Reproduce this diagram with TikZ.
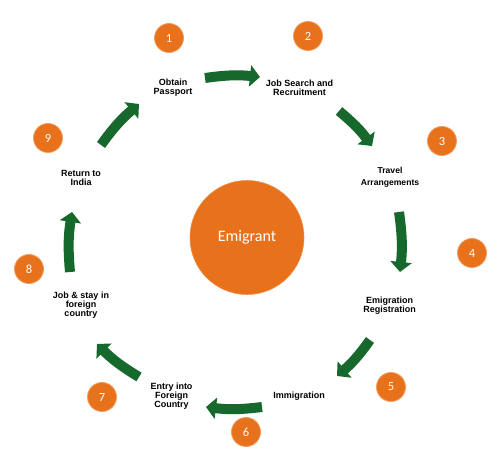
\documentclass[tikz,border=0pt]{standalone}
\usepackage{fontspec}
\setmainfont{Liberation Sans}
\newfontfamily\calib{Carlito}
\usetikzlibrary{arrows.meta}
\definecolor{emorange}{RGB}{232,114,28}
\definecolor{emgreen}{RGB}{22,104,45}
\begin{document}
\begin{tikzpicture}[x=1pt,y=1pt,
 num/.style={circle,fill=emorange,draw=emorange!70!white,line width=0.8pt,minimum size=29pt,inner sep=0pt,text=white,font=\calib\fontsize{12.5}{12.5}\selectfont},
 lbl/.style={align=center,font=\bfseries\fontsize{9}{9}\selectfont,text=black,inner sep=0pt},
 flow/.style={draw=emgreen,line width=10pt,-{Triangle[length=10pt,width=21pt]},bend left=7}]
\useasboundingbox (0,0) rectangle (500,468);

% centre
\node[circle,fill=emorange,draw=emorange!80!white,line width=0.6pt,minimum size=114pt,inner sep=0pt,text=white,font=\calib\fontsize{16}{16}\selectfont] (em) at (247,230.5) {Emigrant};

% numbers
\node[num] (n1) at (169,430) {1};
\node[num] (n2) at (308,432) {2};
\node[num] (n3) at (442,327) {3};
\node[num] (n4) at (472,215) {4};
\node[num] (n5) at (391,81) {5};
\node[num] (n6) at (246,36) {6};
\node[num] (n7) at (102,71) {7};
\node[num] (n8) at (29,199) {8};
\node[num] (n9) at (48,330) {9};

% labels
\node[lbl] (l1) at (173,380.5) {Obtain\\Passport};
\node[lbl] (l2) at (299.5,380.5) {Job Search and\\Recruitment};
\node[lbl,font=\bfseries\fontsize{8.6}{12}\selectfont] (l3) at (390,291) {Travel\\Arrangements};
\node[lbl] (l4) at (389.5,162.7) {Emigration\\Registration};
\node[lbl] (l5) at (299,72.3) {Immigration};
\node[lbl] (l6) at (171.5,72.3) {Entry into\\Foreign\\Country};
\node[lbl] (l7) at (81,162.5) {Job \& stay in\\foreign\\country};
\node[lbl] (l8) at (81,290.5) {Return to\\India};

% arrow ends
\coordinate (t12) at (205,390); \coordinate (h12) at (260,391);
\coordinate (t23) at (339,357); \coordinate (h23) at (372,322);
\coordinate (t34) at (399,256); \coordinate (h34) at (400,196);
\coordinate (t45) at (370,128); \coordinate (h45) at (337,92);
\coordinate (t56) at (262,61);  \coordinate (h56) at (206,61);
\coordinate (t67) at (139,91);  \coordinate (h67) at (97,124);
\coordinate (t78) at (70,196);  \coordinate (h78) at (72,256);
\coordinate (t89) at (101,323); \coordinate (h89) at (139,364);

\draw[flow] (t12) to (h12);
\draw[flow] (t23) to (h23);
\draw[flow] (t34) to (h34);
\draw[flow] (t45) to (h45);
\draw[flow] (t56) to (h56);
\draw[flow] (t67) to (h67);
\draw[flow] (t78) to (h78);
\draw[flow] (t89) to (h89);
\end{tikzpicture}
\end{document}
